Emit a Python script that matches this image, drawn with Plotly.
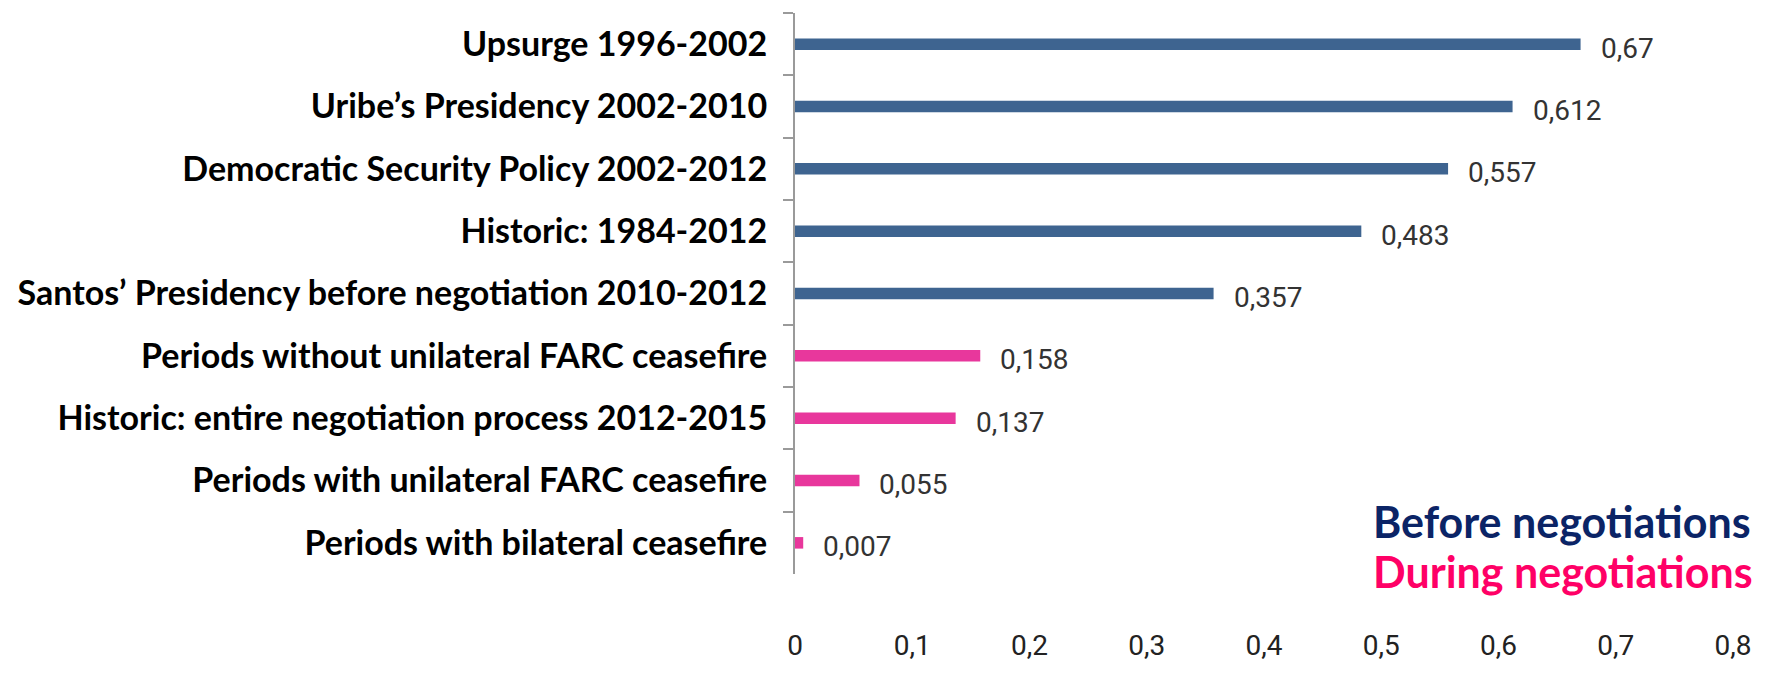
import plotly.graph_objects as go

categories = [
    "Upsurge 1996-2002",
    "Uribe’s Presidency 2002-2010",
    "Democratic Security Policy 2002-2012",
    "Historic: 1984-2012",
    "Santos’ Presidency before negotiation 2010-2012",
    "Periods without unilateral FARC ceasefire",
    "Historic: entire negotiation process 2012-2015",
    "Periods with unilateral FARC ceasefire",
    "Periods with bilateral ceasefire",
]
values = [0.67, 0.612, 0.557, 0.483, 0.357, 0.158, 0.137, 0.055, 0.007]
value_labels = ["0,67", "0,612", "0,557", "0,483", "0,357", "0,158", "0,137", "0,055", "0,007"]
groups = ["Before negotiations"] * 5 + ["During negotiations"] * 4
x_tickvals = [0, 0.1, 0.2, 0.3, 0.4, 0.5, 0.6, 0.7, 0.8]
x_ticktext = ["0", "0,1", "0,2", "0,3", "0,4", "0,5", "0,6", "0,7", "0,8"]

bar_colors = {"Before negotiations": "#3E6490", "During negotiations": "#E8379C"}
legend_colors = {"Before negotiations": "#0B2466", "During negotiations": "#FF0066"}

NUM_FONT = "Roboto, sans-serif"
LAB_FONT = "Lato, Open Sans, sans-serif"

W, H = 1768, 674
ML, MR, MT, MB = 795, 35, 13, 71
PW, PH = W - ML - MR, H - MT - MB

fig = go.Figure()
fig.add_trace(go.Bar(
    y=categories,
    x=values,
    orientation="h",
    width=0.185,
    marker=dict(color=[bar_colors[g] for g in groups], line=dict(width=0)),
    showlegend=False,
    hoverinfo="skip",
))

annotations = []
for cat, v, lab in zip(categories, values, value_labels):
    annotations.append(dict(
        x=v, y=cat, xref="x", yref="y", text=lab, showarrow=False,
        xanchor="left", yanchor="middle", xshift=18, yshift=-4,
        font=dict(family=NUM_FONT, size=28, color="#333333"),
    ))

legend_names = ["Before negotiations", "During negotiations"]
legend_y = [548, 600]
for name, yp in zip(legend_names, legend_y):
    annotations.append(dict(
        x=(1371 - ML) / PW, y=1 - (yp - MT) / PH, xref="paper", yref="paper",
        text="<b>" + name + "</b>", showarrow=False,
        xanchor="left", yanchor="middle",
        font=dict(family=LAB_FONT, size=43, color=legend_colors[name]),
    ))

fig.update_layout(
    width=W, height=H,
    margin=dict(l=ML, r=MR, t=MT, b=MB),
    paper_bgcolor="white", plot_bgcolor="white",
    annotations=annotations,
    bargap=0.8,
)
fig.update_xaxes(
    range=[0, 0.8], tickvals=x_tickvals, ticktext=x_ticktext,
    showgrid=False, zeroline=False, showline=False, ticks="",
    ticklabelstandoff=52,
    tickfont=dict(family=NUM_FONT, size=28, color="#222222"),
)
fig.update_yaxes(
    autorange="reversed", type="category",
    showgrid=False, zeroline=False,
    showline=True, linecolor="#9a9a9a", linewidth=2,
    ticks="outside", tickson="boundaries", ticklen=10, tickcolor="#9a9a9a", tickwidth=2,
    ticklabelstandoff=19,
    tickfont=dict(family=LAB_FONT, size=34, color="#000000", weight="bold"),
)

fig.write_html("out.html")
